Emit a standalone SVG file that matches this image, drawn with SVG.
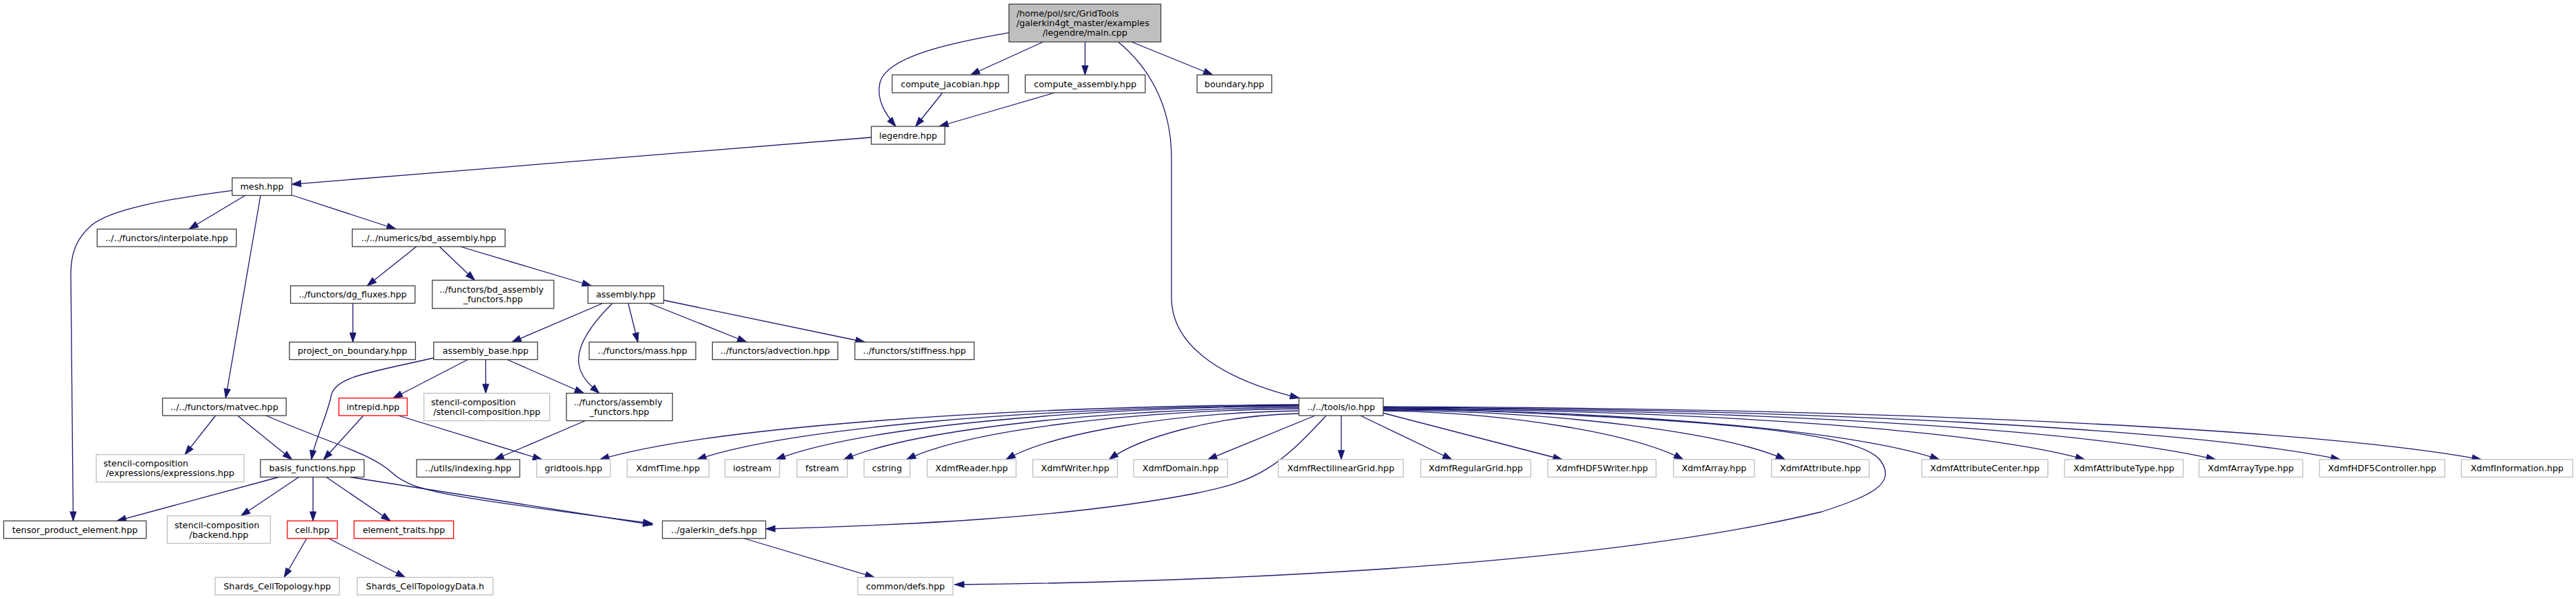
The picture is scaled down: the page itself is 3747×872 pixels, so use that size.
<svg xmlns="http://www.w3.org/2000/svg" width="3747" height="872" viewBox="0 0 3747 872">
<style>
text{font-family:"DejaVu Sans","Liberation Sans",sans-serif;font-size:12.7px;fill:#000}
.m{text-anchor:middle}
.s{text-anchor:start}
.n rect{fill:#fff;stroke:#404040;stroke-width:1.3}
.g rect{fill:#fff;stroke:#bfbfbf;stroke-width:1.3}
.r rect{fill:#fff;stroke:#ff0000;stroke-width:1.3}
.root rect{fill:#bfbfbf;stroke:#404040;stroke-width:1.3}
#edges path{fill:none;stroke:#191970;stroke-width:1.3;marker-end:url(#a)}
</style>
<defs>
<marker id="a" markerUnits="userSpaceOnUse" markerWidth="14" markerHeight="10" viewBox="0 0 14 10" refX="13.3" refY="4.5" orient="auto" overflow="visible">
<path d="M0,0 L13.3,4.5 L0,9 Z" fill="#191970" stroke="#191970" stroke-width="1"/>
</marker>
</defs>
<rect x="0" y="0" width="3747" height="872" fill="#fff"/>
<g id="edges">
<path d="M1467.6,47.7 C1385,62 1290,82 1280,120 C1274,145 1288,166 1303,184"/>
<path d="M1517.4,61 L1411.7,109"/>
<path d="M1578.3,61 L1578.3,109"/>
<path d="M1645.9,61 L1764,109"/>
<path d="M1626.4,61 C1668,95 1704,150 1704,230 L1704,433 C1704,510 1790,555 1890,579.5"/>
<path d="M1371,135 L1331.7,184"/>
<path d="M1534,135 L1366,184"/>
<path d="M1267.4,200 L424.3,268.3"/>
<path d="M356.7,284.5 L275,333.5"/>
<path d="M424.3,284 L576,333.5"/>
<path d="M379,284.5 L328.3,579.5"/>
<path d="M337.7,277.3 C240,290 160,305 133,328 C110,348 103,370 103,400 L106.5,758.3"/>
<path d="M605.7,359 L534.1,416"/>
<path d="M639.3,359 L690.5,408"/>
<path d="M669.5,359 L860.3,416"/>
<path d="M513.3,441.5 L513.3,498"/>
<path d="M876.8,441.5 L744.6,498"/>
<path d="M890.8,441.5 C862,470 838,502 842,530 C845,550 860,562 871.7,572.5"/>
<path d="M913.8,441.5 L927.8,498"/>
<path d="M944.4,441.5 L1086,498"/>
<path d="M965.4,437 L1258,498"/>
<path d="M630.8,521 C540,542 488,548 482,575 C476,605 458,640 453,669"/>
<path d="M680.4,523.5 L572,579.5"/>
<path d="M706.5,523.5 L706.5,572.5"/>
<path d="M737.8,523.5 L849.4,572.5"/>
<path d="M313.6,605 L269,661.7"/>
<path d="M345.5,605 L424.7,669"/>
<path d="M387,605 C480,645 540,660 570,688 C600,715 640,722 949,762"/>
<path d="M528.6,605 L470.6,669"/>
<path d="M579.6,605 L788.5,669"/>
<path d="M851.3,612.5 L719.4,669"/>
<path d="M405.6,694.5 L170,758.3"/>
<path d="M434.7,694.5 L350.5,751"/>
<path d="M455.3,694.5 L455.3,758.3"/>
<path d="M474.5,694.5 L567.9,758.3"/>
<path d="M509,694.5 L949,764"/>
<path d="M446,784 L413.3,840.5"/>
<path d="M478.3,784 L589.3,840.5"/>
<path d="M1082.8,784 L1272,840.5"/>
<path d="M1889.4,589 C1431.8,592 1025,624 872.5,669"/>
<path d="M1889.4,590 C1495.4,593 1145.1,624 1013.8,669"/>
<path d="M1889.4,591 C1547,594 1242.7,624 1128.6,669"/>
<path d="M1889.4,593 C1591.5,596 1326.7,626 1227.4,669"/>
<path d="M1889.4,595 C1632.5,598 1404.2,628 1318.6,669"/>
<path d="M1889.4,598 C1697.7,601 1527.3,632 1463.4,669"/>
<path d="M1889.4,602 C1765.2,605 1654.8,638 1613.3,669"/>
<path d="M1913,605 L1756.8,669"/>
<path d="M1929,605 C1860,680 1830,700 1740,718 C1550,755 1300,765 1114,770"/>
<path d="M1951,605 L1951,669"/>
<path d="M1978.8,605 L2112,669"/>
<path d="M2011,601 L2272.6,669"/>
<path d="M2012,598 C2208,601 2383,634 2448.3,669"/>
<path d="M2012,597 C2275,599 2509,630 2596.7,669"/>
<path d="M2012,596 C2376,598 2700,628 2821,669"/>
<path d="M2012,595 C2471,597 2879,626 3032.5,669"/>
<path d="M2012,594 C2557,596 3041,626 3222.8,669"/>
<path d="M2012,593 C2638,595 3195,625 3404,669"/>
<path d="M2012,592 C2731,594 3370,624 3609.3,669"/>
<path d="M2012,593 C2450,608 2700,625 2735,670 C2760,705 2720,722 2650,745 C2300,830 1700,848 1388.8,851"/>
</g>
<g id="root" class="root"><rect x="1467.6" y="6" width="221" height="55"/><text class="s" x="1478.5" y="24">/home/pol/src/GridTools</text><text class="s" x="1478.5" y="38">/galerkin4gt_master/examples</text><text class="m" x="1578.1" y="52">/legendre/main.cpp</text></g>
<g id="compute_jacobian" class="n"><rect x="1297.7" y="109" width="169.1" height="26"/><text class="m" x="1382.25" y="126.5">compute_jacobian.hpp</text></g>
<g id="compute_assembly" class="n"><rect x="1491.3" y="109" width="174.5" height="26"/><text class="m" x="1578.55" y="126.5">compute_assembly.hpp</text></g>
<g id="boundary" class="n"><rect x="1741.2" y="109" width="108.6" height="26"/><text class="m" x="1795.5" y="126.5">boundary.hpp</text></g>
<g id="legendre" class="n"><rect x="1267.4" y="184" width="107" height="26"/><text class="m" x="1320.9" y="201.5">legendre.hpp</text></g>
<g id="mesh" class="n"><rect x="337.7" y="259" width="86.6" height="25.5"/><text class="m" x="381" y="276.3">mesh.hpp</text></g>
<g id="interpolate" class="n"><rect x="141.3" y="333.5" width="202.4" height="25.5"/><text class="m" x="242.5" y="350.8">../../functors/interpolate.hpp</text></g>
<g id="bd_assembly" class="n"><rect x="512.4" y="333.5" width="222.3" height="25.5"/><text class="m" x="623.55" y="350.8">../../numerics/bd_assembly.hpp</text></g>
<g id="dg_fluxes" class="n"><rect x="422.6" y="416" width="181.1" height="25.5"/><text class="m" x="513.15" y="433.3">../functors/dg_fluxes.hpp</text></g>
<g id="bd_assembly_functors" class="n"><rect x="628.8" y="408" width="176.8" height="41"/><text class="s" x="639.3" y="425.5">../functors/bd_assembly</text><text class="m" x="717.2" y="439.5">_functors.hpp</text></g>
<g id="assembly" class="n"><rect x="855.2" y="416" width="110.2" height="25.5"/><text class="m" x="910.3" y="433.3">assembly.hpp</text></g>
<g id="project_on_boundary" class="n"><rect x="421" y="498" width="183.4" height="25.5"/><text class="m" x="512.7" y="515.3">project_on_boundary.hpp</text></g>
<g id="assembly_base" class="n"><rect x="630.8" y="498" width="151" height="25.5"/><text class="m" x="706.3" y="515.3">assembly_base.hpp</text></g>
<g id="mass" class="n"><rect x="857" y="498" width="155" height="25.5"/><text class="m" x="934.5" y="515.3">../functors/mass.hpp</text></g>
<g id="advection" class="n"><rect x="1036.3" y="498" width="182.4" height="25.5"/><text class="m" x="1127.5" y="515.3">../functors/advection.hpp</text></g>
<g id="stiffness" class="n"><rect x="1243.5" y="498" width="173.5" height="25.5"/><text class="m" x="1330.25" y="515.3">../functors/stiffness.hpp</text></g>
<g id="matvec" class="n"><rect x="236.5" y="579.5" width="179.8" height="25.5"/><text class="m" x="326.4" y="596.8">../../functors/matvec.hpp</text></g>
<g id="intrepid" class="r"><rect x="492.9" y="579.5" width="99.4" height="25.5"/><text class="m" x="542.6" y="596.8">intrepid.hpp</text></g>
<g id="stencil_composition" class="g"><rect x="616.6" y="572.5" width="183" height="40"/><text class="s" x="627" y="590">stencil-composition</text><text class="m" x="708.1" y="604">/stencil-composition.hpp</text></g>
<g id="assembly_functors" class="n"><rect x="823.9" y="572.5" width="154.3" height="40"/><text class="s" x="834.5" y="590">../functors/assembly</text><text class="m" x="901.05" y="604">_functors.hpp</text></g>
<g id="io" class="n"><rect x="1889.4" y="579.5" width="122.6" height="25.5"/><text class="m" x="1950.7" y="596.8">../../tools/io.hpp</text></g>
<g id="expressions" class="g"><rect x="140" y="661.7" width="215" height="40"/><text class="s" x="150.5" y="679.2">stencil-composition</text><text class="m" x="247.5" y="693.2">/expressions/expressions.hpp</text></g>
<g id="basis_functions" class="n"><rect x="378.8" y="669" width="150.8" height="25.5"/><text class="m" x="454.2" y="686.3">basis_functions.hpp</text></g>
<g id="indexing" class="n"><rect x="606" y="669" width="150" height="25.5"/><text class="m" x="681" y="686.3">../utils/indexing.hpp</text></g>
<g id="gridtools" class="g"><rect x="780.6" y="669" width="107.1" height="25.5"/><text class="m" x="834.15" y="686.3">gridtools.hpp</text></g>
<g id="XdmfTime" class="g"><rect x="912.2" y="669" width="119" height="25.5"/><text class="m" x="971.7" y="686.3">XdmfTime.hpp</text></g>
<g id="iostream" class="g"><rect x="1054.6" y="669" width="79.2" height="25.5"/><text class="m" x="1094.2" y="686.3">iostream</text></g>
<g id="fstream" class="g"><rect x="1159.3" y="669" width="73.2" height="25.5"/><text class="m" x="1195.9" y="686.3">fstream</text></g>
<g id="cstring" class="g"><rect x="1256.8" y="669" width="66.9" height="25.5"/><text class="m" x="1290.25" y="686.3">cstring</text></g>
<g id="XdmfReader" class="g"><rect x="1348.6" y="669" width="129.4" height="25.5"/><text class="m" x="1413.3" y="686.3">XdmfReader.hpp</text></g>
<g id="XdmfWriter" class="g"><rect x="1502.3" y="669" width="123.1" height="25.5"/><text class="m" x="1563.85" y="686.3">XdmfWriter.hpp</text></g>
<g id="XdmfDomain" class="g"><rect x="1649" y="669" width="136.5" height="25.5"/><text class="m" x="1717.25" y="686.3">XdmfDomain.hpp</text></g>
<g id="XdmfRectilinearGrid" class="g"><rect x="1859.4" y="669" width="181.8" height="25.5"/><text class="m" x="1950.3" y="686.3">XdmfRectilinearGrid.hpp</text></g>
<g id="XdmfRegularGrid" class="g"><rect x="2066.6" y="669" width="160" height="25.5"/><text class="m" x="2146.6" y="686.3">XdmfRegularGrid.hpp</text></g>
<g id="XdmfHDF5Writer" class="g"><rect x="2251.4" y="669" width="157.5" height="25.5"/><text class="m" x="2330.15" y="686.3">XdmfHDF5Writer.hpp</text></g>
<g id="XdmfArray" class="g"><rect x="2434.4" y="669" width="117.6" height="25.5"/><text class="m" x="2493.2" y="686.3">XdmfArray.hpp</text></g>
<g id="XdmfAttribute" class="g"><rect x="2576.8" y="669" width="142.2" height="25.5"/><text class="m" x="2647.9" y="686.3">XdmfAttribute.hpp</text></g>
<g id="XdmfAttributeCenter" class="g"><rect x="2795.5" y="669" width="183.3" height="25.5"/><text class="m" x="2887.15" y="686.3">XdmfAttributeCenter.hpp</text></g>
<g id="XdmfAttributeType" class="g"><rect x="3003" y="669" width="172.7" height="25.5"/><text class="m" x="3089.35" y="686.3">XdmfAttributeType.hpp</text></g>
<g id="XdmfArrayType" class="g"><rect x="3198.6" y="669" width="151" height="25.5"/><text class="m" x="3274.1" y="686.3">XdmfArrayType.hpp</text></g>
<g id="XdmfHDF5Controller" class="g"><rect x="3373.8" y="669" width="182.4" height="25.5"/><text class="m" x="3465" y="686.3">XdmfHDF5Controller.hpp</text></g>
<g id="XdmfInformation" class="g"><rect x="3580.3" y="669" width="161.9" height="25.5"/><text class="m" x="3661.25" y="686.3">XdmfInformation.hpp</text></g>
<g id="tensor_product_element" class="n"><rect x="5.4" y="758.3" width="207.3" height="25.5"/><text class="m" x="109.05" y="775.6">tensor_product_element.hpp</text></g>
<g id="backend" class="g"><rect x="243.4" y="751" width="150" height="40"/><text class="s" x="254" y="768.5">stencil-composition</text><text class="m" x="318.4" y="782.5">/backend.hpp</text></g>
<g id="cell" class="r"><rect x="417.9" y="758.3" width="72.7" height="25.5"/><text class="m" x="454.25" y="775.6">cell.hpp</text></g>
<g id="element_traits" class="r"><rect x="515" y="758.3" width="144.7" height="25.5"/><text class="m" x="587.35" y="775.6">element_traits.hpp</text></g>
<g id="galerkin_defs" class="n"><rect x="963.5" y="758.3" width="150.3" height="25.5"/><text class="m" x="1038.65" y="775.6">../galerkin_defs.hpp</text></g>
<g id="Shards_CellTopology" class="g"><rect x="313" y="840.5" width="180.6" height="25.5"/><text class="m" x="403.3" y="857.8">Shards_CellTopology.hpp</text></g>
<g id="Shards_CellTopologyData" class="g"><rect x="519.6" y="840.5" width="197.5" height="25.5"/><text class="m" x="618.35" y="857.8">Shards_CellTopologyData.h</text></g>
<g id="common_defs" class="g"><rect x="1247.8" y="840.5" width="138.4" height="25.5"/><text class="m" x="1317" y="857.8">common/defs.hpp</text></g>
</svg>
